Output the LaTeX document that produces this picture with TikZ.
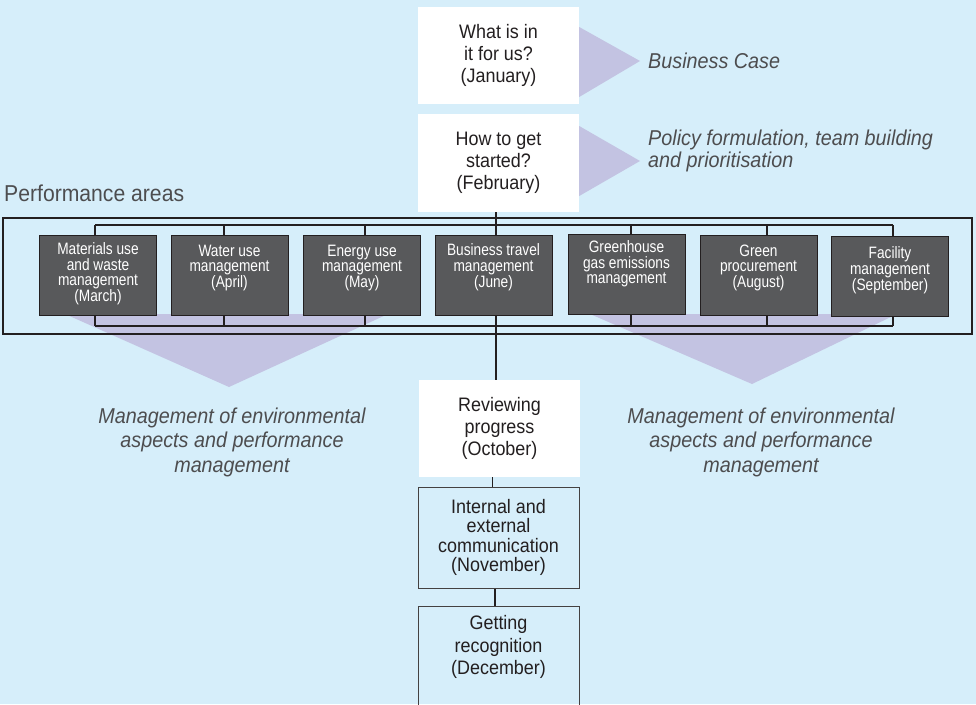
\documentclass[tikz,border=0pt]{standalone}
\usepackage{fontspec}
\setmainfont{Liberation Sans}
\newfontfamily\narrowfont[FakeStretch=0.83]{Liberation Sans}
\newfontfamily\condfont[FakeStretch=0.92]{Liberation Sans}
\usetikzlibrary{calc}
\definecolor{bgblue}{HTML}{D6EEFA}
\definecolor{lav}{HTML}{C3C3E2}
\definecolor{boxgray}{HTML}{58595B}
\definecolor{textdark}{HTML}{231F20}
\definecolor{itgray}{HTML}{4D4D4F}
\pgfdeclarelayer{bg}\pgfdeclarelayer{tri}\pgfdeclarelayer{lines}
\pgfsetlayers{bg,tri,lines,main}
\begin{document}
\begin{tikzpicture}[x=1pt,y=-1pt,
  whitebox/.style={fill=white, draw=none, minimum width=161pt, minimum height=97pt, inner sep=0pt, align=center, font=\condfont\fontsize{19.5}{22}\selectfont, text=textdark},
  outlinebox/.style={fill=none, draw=textdark!85, line width=0.9pt, minimum width=161pt, inner sep=0pt, align=center, font=\condfont\fontsize{19.5}{19.5}\selectfont, text=textdark},
  darkbox/.style={fill=boxgray, draw=textdark, line width=0.9pt, minimum width=117pt, minimum height=80pt, inner sep=0pt},
  darktext/.style={anchor=north, inner sep=0pt, align=center, text=white, font=\narrowfont\fontsize{16.5}{15.3}\selectfont},
  itlabel/.style={inner sep=0pt, text=itgray, font=\condfont\itshape\fontsize{21.5}{24.5}\selectfont},
  link/.style={draw=textdark, line width=2pt},
  thinlink/.style={draw=textdark, line width=1.8pt}]
\clip (0,0) rectangle (976,704);
\begin{pgfonlayer}{bg}
\fill[bgblue] (0,0) rectangle (976,704);
\end{pgfonlayer}

% top boxes
\node[whitebox] (jan) at (498.5,55.5) {What is in\\it for us?\\(January)};
\node[whitebox, minimum height=98pt] (feb) at (498.5,163) {How to get\\started?\\(February)};
\node[itlabel, anchor=west] (bcase) at (648,61) {Business Case};
\node[itlabel, anchor=west, align=left, font=\condfont\itshape\fontsize{21.5}{22.5}\selectfont] (policy) at (648,151) {Policy formulation, team building\\and prioritisation};
\node[anchor=west, inner sep=0pt, text=itgray, font=\condfont\fontsize{23}{26}\selectfont] (perf) at (4,193) {Performance areas};

% performance area boxes
\node[darkbox] (b1) at (98,275) {};
\node[darkbox] (b2) at (229.5,275) {};
\node[darkbox] (b3) at (362,275) {};
\node[darkbox] (b4) at (493.5,275) {};
\node[darkbox] (b5) at (626.5,274) {};
\node[darkbox] (b6) at (758.5,275) {};
\node[darkbox] (b7) at (890,276) {};
\node[darktext] (t1) at ([yshift=-8pt]b1.north) {Materials use\\and waste\\management\\(March)};
\node[darktext] (t2) at ([yshift=-10pt]b2.north) {Water use\\management\\(April)};
\node[darktext] (t3) at ([yshift=-10pt]b3.north) {Energy use\\management\\(May)};
\node[darktext] (t4) at ([yshift=-9pt]b4.north) {Business travel\\management\\(June)};
\node[darktext] (t5) at ([yshift=-7pt]b5.north) {Greenhouse\\gas emissions\\management};
\node[darktext] (t6) at ([yshift=-10pt]b6.north) {Green\\procurement\\(August)};
\node[darktext] (t7) at ([yshift=-11pt]b7.north) {Facility\\management\\(September)};

% lower boxes
\node[whitebox] (oct) at (499.5,428.5) {Reviewing\\progress\\(October)};
\node[outlinebox, minimum height=101pt] (nov) at (498.5,537.5) {Internal and\\external\\communication\\(November)};
\node[outlinebox, minimum height=114pt] (dec) at (498.5,663) {};
\node[anchor=north, inner sep=0pt, align=center, text=textdark, font=\condfont\fontsize{19.5}{22.5}\selectfont] (dect) at ([yshift=-10pt]dec.north) {Getting\\recognition\\(December)};

\node[itlabel, align=center] (envl) at (232,442) {Management of environmental\\aspects and performance\\management};
\node[itlabel, align=center] (envr) at (761,442) {Management of environmental\\aspects and performance\\management};

% triangles
\begin{pgfonlayer}{tri}
\fill[lav] (jan.east |- 0,27) -- (jan.east |- 0,97) -- (640,61) -- cycle;
\fill[lav] (feb.east |- 0,126) -- (feb.east |- 0,196) -- (640,161) -- cycle;
\fill[lav] (65,314) -- (388,314) -- (229,387) -- cycle;
\fill[lav] (590,314) -- (897,314) -- (752,384) -- cycle;
\end{pgfonlayer}

% lines
\begin{pgfonlayer}{lines}
\coordinate (busTL) at (95,225);
\coordinate (busTR) at (893,225);
\coordinate (busBL) at (95,326);
\coordinate (busBR) at (893,326);
\draw[link] (3,218) rectangle (972,334);
\draw[link] (busTL) -- (busTR);
\draw[link] (busBL) -- (busBR);
\foreach \b/\s in {b1/-3, b2/-5.5, b3/3, b5/4.5, b6/8.5, b7/3}{
  \draw[link] ([xshift=\s pt]\b.north) -- ([xshift=\s pt]\b.north |- busTL);
  \draw[link] ([xshift=\s pt]\b.south) -- ([xshift=\s pt]\b.south |- busBL);
}
\draw[link] ([xshift=-2.5pt]feb.south) -- ([xshift=-2.5pt]feb.south |- oct.north);
\draw[thinlink] ([xshift=-7pt]oct.south) -- ([xshift=-7pt]oct.south |- nov.north);
\draw[thinlink] ([xshift=-3.5pt]nov.south) -- ([xshift=-3.5pt]nov.south |- dec.north);
\end{pgfonlayer}
\end{tikzpicture}
\end{document}
